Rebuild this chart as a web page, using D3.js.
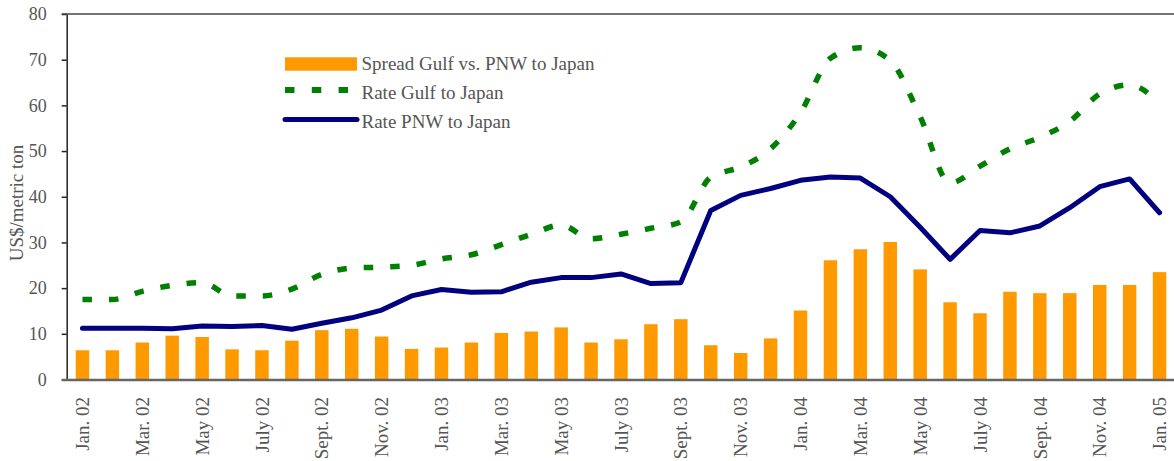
<!DOCTYPE html>
<html>
<head>
<meta charset="utf-8">
<script src="https://cdn.jsdelivr.net/npm/d3@7"></script>
<style>
  body { margin: 0; background: #fff; }
  svg text { font-family: "Liberation Serif", "Times New Roman", serif; fill: #555; }
</style>
</head>
<body>
<div id="chart"></div>
<script>
// months Jan. 02 .. Jan. 05
var months = [
  "Jan. 02", "Feb. 02", "Mar. 02", "Apr. 02", "May 02", "June 02", "July 02", "Aug. 02", "Sept. 02", "Oct. 02", "Nov. 02", "Dec. 02",
  "Jan. 03", "Feb. 03", "Mar. 03", "Apr. 03", "May 03", "June 03", "July 03", "Aug. 03", "Sept. 03", "Oct. 03", "Nov. 03", "Dec. 03",
  "Jan. 04", "Feb. 04", "Mar. 04", "Apr. 04", "May 04", "June 04", "July 04", "Aug. 04", "Sept. 04", "Oct. 04", "Nov. 04", "Dec. 04",
  "Jan. 05"
];

// US$/metric ton
var spread = [
  6.4, 6.4, 8.1, 9.6, 9.3, 6.6, 6.4, 8.5, 10.8, 11.1, 9.4, 6.7,
  7.0, 8.1, 10.2, 10.5, 11.4, 8.1, 8.8, 12.1, 13.2, 7.5, 5.8, 9.0,
  15.1, 26.1, 28.5, 30.1, 24.1, 16.9, 14.5, 19.2, 18.9, 18.9, 20.7, 20.7,
  23.5
];
var rateGulf = [
  17.5, 17.5, 19.3, 20.6, 21.2, 18.3, 18.3, 19.8, 23.0, 24.4, 24.6, 25.0,
  26.4, 27.3, 29.5, 31.8, 33.8, 30.8, 31.8, 33.1, 34.5, 44.3, 46.5, 50.5,
  58.4, 70.3, 72.6, 69.8, 57.5, 43.0, 46.7, 50.5, 53.0, 56.5, 62.5, 64.5,
  60.4
];
var ratePNW = [
  11.2, 11.2, 11.2, 11.1, 11.7, 11.6, 11.8, 11.0, 12.3, 13.5, 15.2, 18.3,
  19.7, 19.1, 19.2, 21.3, 22.3, 22.3, 23.1, 21.0, 21.2, 37.0, 40.3, 41.8,
  43.6, 44.3, 44.1, 40.0, 33.3, 26.3, 32.6, 32.1, 33.6, 37.6, 42.2, 43.9,
  36.5
];
var yTicks = [0, 10, 20, 30, 40, 50, 60, 70, 80];
var legendLabels = ["Spread Gulf vs. PNW to Japan", "Rate Gulf to Japan", "Rate PNW to Japan"];

var width = 1174, height = 461;
var orange = "#ff9900", green = "#008000", navy = "#000080";

var svg = d3.select("#chart").append("svg")
  .attr("width", width)
  .attr("height", height);

var x = d3.scaleBand()
  .domain(months)
  .range([67.5, 1174.5])
  .paddingInner(0.55)
  .paddingOuter(0.275);

var y = d3.scaleLinear()
  .domain([0, 80])
  .range([379.5, 14]);

var cx = function (m) { return x(m) + x.bandwidth() / 2; };

// bars
svg.append("g")
  .selectAll("rect")
  .data(months)
  .enter()
  .append("rect")
  .attr("x", function (d) { return x(d); })
  .attr("y", function (d, i) { return y(spread[i]); })
  .attr("width", x.bandwidth())
  .attr("height", function (d, i) { return y(0) - y(spread[i]); })
  .attr("fill", orange);

var line = function (vals, curve) {
  return d3.line()
    .curve(curve)
    .x(function (d, i) { return cx(months[i]); })
    .y(function (d) { return y(d); })(vals);
};

svg.append("path")
  .attr("d", line(rateGulf, d3.curveMonotoneX))
  .attr("fill", "none")
  .attr("stroke", green)
  .attr("stroke-width", 5.5)
  .attr("stroke-dasharray", "9.5,17");

svg.append("path")
  .attr("d", line(ratePNW, d3.curveLinear))
  .attr("fill", "none")
  .attr("stroke", navy)
  .attr("stroke-width", 5)
  .attr("stroke-linejoin", "round")
  .attr("stroke-linecap", "round");

// y axis
var yAxis = svg.append("g")
  .attr("transform", "translate(66.7,0)")
  .call(d3.axisLeft(y).tickValues(yTicks).tickSize(5).tickSizeOuter(0).tickPadding(15));
yAxis.select(".domain").attr("stroke", "#222").attr("stroke-width", 1.5);
yAxis.selectAll(".tick line").attr("stroke", "#222").attr("stroke-width", 1.5);
yAxis.selectAll(".tick text")
  .style("font-size", "18px")
  .attr("fill", "#555");

// top border
svg.append("line")
  .attr("x1", 61.7).attr("x2", width)
  .attr("y1", y(80)).attr("y2", y(80))
  .attr("stroke", "#444").attr("stroke-width", 1.5);

// x axis
var xAxis = svg.append("g")
  .attr("transform", "translate(0,380)")
  .call(d3.axisBottom(x)
    .tickValues(months.filter(function (d, i) { return i % 2 === 0; }))
    .tickSize(0).tickSizeOuter(0));
xAxis.select(".domain").remove();
xAxis.append("line")
  .attr("x1", 61.7).attr("x2", width)
  .attr("stroke", "#666").attr("stroke-width", 2.5);
xAxis.selectAll(".tick text")
  .attr("transform", "translate(0,17) rotate(-90)")
  .attr("x", 0).attr("y", 0).attr("dy", "0.35em")
  .attr("text-anchor", "end")
  .style("font-size", "19px")
  .attr("fill", "#555");

// y title
svg.append("text")
  .attr("transform", "translate(23,203) rotate(-90)")
  .attr("text-anchor", "middle")
  .style("font-size", "19px")
  .text("US$/metric ton");

// legend
var lg = svg.append("g");
lg.append("rect")
  .attr("x", 285).attr("y", 57.3).attr("width", 72).attr("height", 13.4)
  .attr("fill", orange);
lg.append("line")
  .attr("x1", 285).attr("x2", 350).attr("y1", 90).attr("y2", 90)
  .attr("stroke", green).attr("stroke-width", 6)
  .attr("stroke-dasharray", "9.5,17.3");
lg.append("line")
  .attr("x1", 285).attr("x2", 357).attr("y1", 119.5).attr("y2", 119.5)
  .attr("stroke", navy).attr("stroke-width", 5)
  .attr("stroke-linecap", "round");
lg.selectAll("text.lbl")
  .data(legendLabels)
  .enter()
  .append("text")
  .attr("class", "lbl")
  .attr("x", 361.5)
  .attr("y", function (d, i) { return 70 + i * 29.2; })
  .style("font-size", "19px")
  .text(function (d) { return d; });
</script>
</body>
</html>
